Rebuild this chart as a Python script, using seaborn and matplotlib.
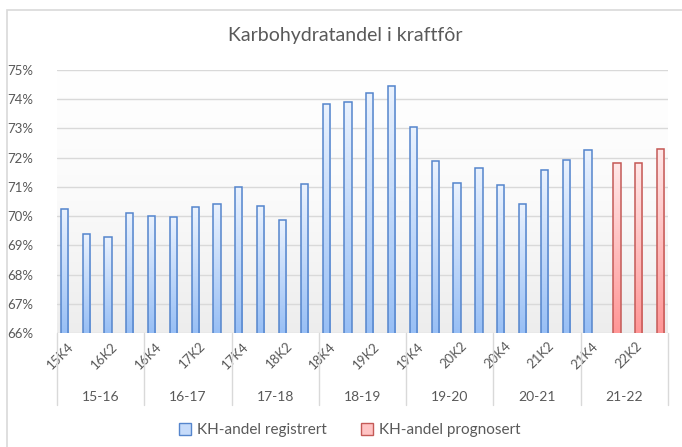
import numpy as np
import pandas as pd
import matplotlib
matplotlib.use('Agg')
import matplotlib.pyplot as plt
import matplotlib.transforms as mtransforms
from matplotlib.patches import Rectangle, Patch
from matplotlib.colors import LinearSegmentedColormap
import seaborn as sns

# Data
quarters = ['15K4', '16K1', '16K2', '16K3',
            '16K4', '17K1', '17K2', '17K3',
            '17K4', '18K1', '18K2', '18K3',
            '18K4', '19K1', '19K2', '19K3',
            '19K4', '20K1', '20K2', '20K3',
            '20K4', '21K1', '21K2', '21K3',
            '21K4', '22K1', '22K2', '22K3']
values = [70.26, 69.39, 69.27, 70.10,
          70.02, 69.97, 70.30, 70.42,
          70.98, 70.35, 69.85, 71.09,
          73.83, 73.91, 74.21, 74.46,
          73.04, 71.88, 71.14, 71.64,
          71.06, 70.43, 71.59, 71.92,
          72.27, 71.83, 71.83, 72.30]
series = ['KH-andel registrert'] * 25 + ['KH-andel prognosert'] * 3
seasons = ['15-16', '16-17', '17-18', '18-19', '19-20', '20-21', '21-22']
hue_order = ['KH-andel registrert', 'KH-andel prognosert']

df = pd.DataFrame({'Kvartal': quarters, 'Andel': values, 'Serie': series})

sns.set_theme(style='white')
plt.rcParams['font.family'] = ['Lato', 'DejaVu Sans']
grey = '#595959'

fig = plt.figure(figsize=(6.82, 4.47), dpi=100)
ax = fig.add_axes([57 / 682, 1 - 333 / 447, 611 / 682, 263 / 447])

edge = {'KH-andel registrert': '#5585cc', 'KH-andel prognosert': '#c45a57'}
top_c = {'KH-andel registrert': '#eaf2fe', 'KH-andel prognosert': '#ffe8e8'}
bot_c = {'KH-andel registrert': '#98bff5', 'KH-andel prognosert': '#ff9696'}
legend_c = {'KH-andel registrert': '#c6dbfa', 'KH-andel prognosert': '#ffc4c4'}

sns.barplot(data=df, x='Kvartal', y='Andel', hue='Serie', hue_order=hue_order,
            order=quarters, dodge=True, width=0.66,
            palette={k: '#b5d0f8' for k in hue_order}, legend=False, ax=ax)

ax.set_ylim(66, 75)
ax.set_xlim(-0.5, len(quarters) - 0.5)

# plot area background gradient
bg = LinearSegmentedColormap.from_list('bg', ['#ededed', '#fafafa', '#ffffff'])
ax.imshow(np.linspace(0, 1, 256).reshape(-1, 1), cmap=bg, aspect='auto',
          extent=[-0.5, len(quarters) - 0.5, 66, 75], origin='lower', zorder=0)

# gradient fill in the bars
for container, name in zip(ax.containers, hue_order):
    cmap = LinearSegmentedColormap.from_list(name, [bot_c[name], top_c[name]])
    for bar in container:
        h = bar.get_height()
        if np.isnan(h) or h <= 0:
            continue
        x0, w = bar.get_x(), bar.get_width()
        bar.set_facecolor('none')
        bar.set_edgecolor(edge[name])
        bar.set_linewidth(1.1)
        bar.set_zorder(3)
        ax.imshow(np.linspace(0, 1, 128).reshape(-1, 1), cmap=cmap, aspect='auto',
                  extent=[x0, x0 + w, 66, h], origin='lower', zorder=2)

ax.set_xlim(-0.5, len(quarters) - 0.5)
ax.set_ylim(66, 75)

# grid
ax.set_yticks(range(66, 76))
for y in range(66, 76):
    ax.axhline(y, color='#d9d9d9', linewidth=1, zorder=1)
ax.set_yticklabels([f'{y}%' for y in range(66, 76)], color=grey, fontsize=9.5)
ax.tick_params(axis='y', length=0, pad=17)
for s in ax.spines.values():
    s.set_visible(False)

# quarter labels, every second one
ax.set_xticks(range(len(quarters)))
ax.set_xticklabels([q if i % 2 == 0 else '' for i, q in enumerate(quarters)],
                   rotation=45, ha='right', rotation_mode='anchor',
                   color=grey, fontsize=9.5)
ax.tick_params(axis='x', length=0, pad=5)
ax.set_xlabel('')
ax.set_ylabel('')

# season labels and separators
trans = mtransforms.blended_transform_factory(ax.transData, ax.transAxes)
for k, s in enumerate(seasons):
    ax.text(4 * k + 1.5, -0.243, s, transform=trans, ha='center', va='center',
            color=grey, fontsize=10)
for k in range(len(seasons) + 1):
    ax.plot([4 * k - 0.5, 4 * k - 0.5], [0, -0.274], transform=trans,
            color='#d9d9d9', linewidth=1, clip_on=False)

fig.suptitle('Karbohydratandel i kraftfôr', x=0.506, y=1 - 36 / 447, va='center',
             fontsize=14, color=grey)

handles = [Patch(facecolor=legend_c[n], edgecolor=edge[n], linewidth=1, label=n)
           for n in hue_order]
fig.legend(handles=handles, loc='center', bbox_to_anchor=(0.513, 1 - 430 / 447),
           ncol=2, frameon=False, fontsize=11, handlelength=0.8, handleheight=0.8,
           handletextpad=0.4, columnspacing=2.2, labelcolor=grey)

# chart border
fig.patches.append(Rectangle((6.5 / 682, -0.1), 2, 1.1 - 10.5 / 447, transform=fig.transFigure,
                             fill=False, edgecolor='#d9d9d9', linewidth=1.2))

fig.savefig('out.png', dpi=100)
